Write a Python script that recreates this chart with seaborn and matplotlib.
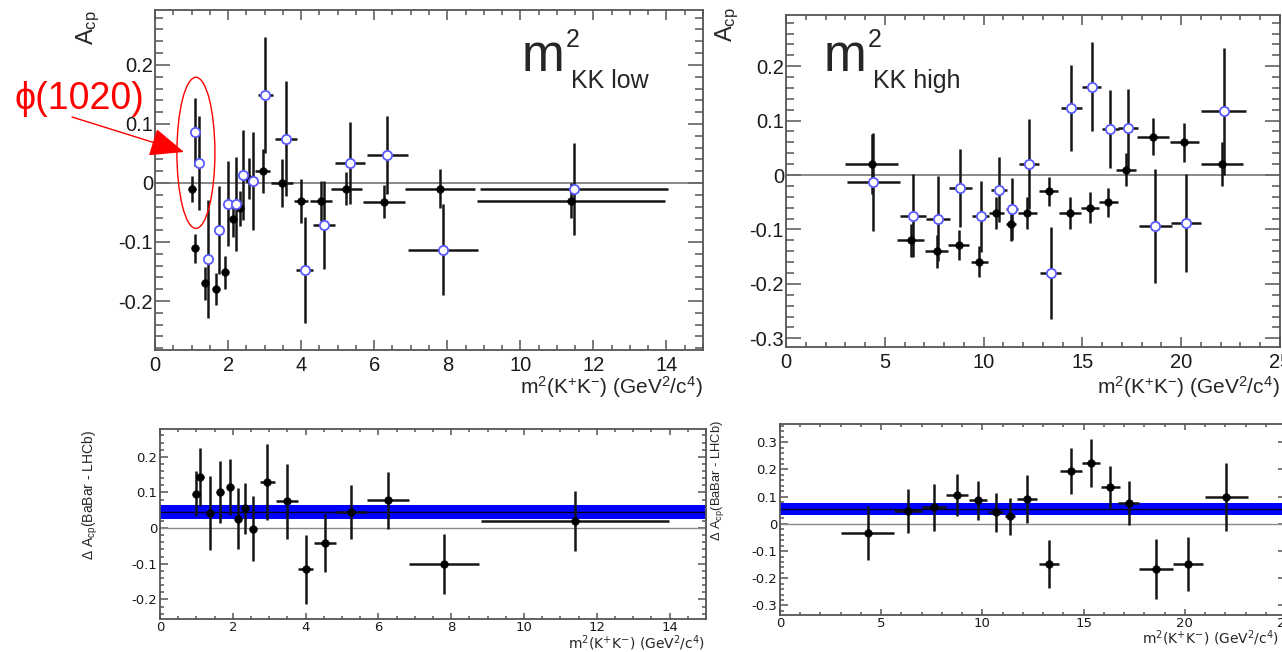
import numpy as np
import pandas as pd
import matplotlib
matplotlib.use("Agg")
import matplotlib.pyplot as plt
import seaborn as sns
from matplotlib.patches import Ellipse, FancyArrowPatch
from matplotlib.ticker import MultipleLocator, FuncFormatter

# ---------------- data ----------------
# low m2KK region : LHCb (filled) and BaBar (open)
lhcb_low_x = [1.00, 1.09, 1.37, 1.66, 1.92, 2.14, 2.34, 2.56, 2.95, 3.48, 4.00, 4.54, 5.24, 6.26, 7.80, 11.39]
lhcb_low_y = [-0.010, -0.111, -0.170, -0.179, -0.151, -0.061, -0.043, 0.007, 0.020, 0.000, -0.030, -0.030, -0.010, -0.032, -0.010, -0.030]
lhcb_low_xerr = [0.03, 0.03, 0.06, 0.06, 0.06, 0.07, 0.07, 0.07, 0.20, 0.30, 0.20, 0.30, 0.42, 0.58, 0.95, 2.58]
lhcb_low_yerr = [0.022, 0.025, 0.028, 0.027, 0.028, 0.030, 0.030, 0.035, 0.037, 0.040, 0.037, 0.034, 0.028, 0.028, 0.033, 0.030]

babar_low_x = [1.09, 1.21, 1.46, 1.76, 2.00, 2.22, 2.42, 2.68, 3.02, 3.58, 4.10, 4.62, 5.34, 6.36, 7.89, 11.46]
babar_low_y = [0.086, 0.034, -0.129, -0.080, -0.035, -0.036, 0.013, 0.004, 0.149, 0.075, -0.147, -0.071, 0.034, 0.047, -0.113, -0.010]
babar_low_xerr = [0.03, 0.03, 0.06, 0.06, 0.06, 0.07, 0.07, 0.07, 0.20, 0.30, 0.23, 0.30, 0.42, 0.57, 0.96, 2.57]
babar_low_yerr = [0.058, 0.080, 0.100, 0.075, 0.072, 0.080, 0.076, 0.083, 0.099, 0.097, 0.090, 0.074, 0.069, 0.066, 0.077, 0.078]

# high m2KK region
lhcb_high_x = [4.33, 6.32, 7.62, 8.74, 9.78, 10.65, 11.37, 12.22, 13.29, 14.39, 15.37, 16.32, 17.22, 18.57, 20.16, 22.06]
lhcb_high_y = [0.020, -0.120, -0.140, -0.129, -0.159, -0.070, -0.090, -0.070, -0.030, -0.070, -0.060, -0.050, 0.010, 0.070, 0.060, 0.020]
lhcb_high_xerr = [1.32, 0.68, 0.60, 0.53, 0.43, 0.38, 0.25, 0.50, 0.50, 0.55, 0.45, 0.46, 0.50, 0.83, 0.75, 1.07]
lhcb_high_yerr = [0.055, 0.030, 0.030, 0.028, 0.028, 0.030, 0.032, 0.030, 0.027, 0.030, 0.028, 0.027, 0.031, 0.034, 0.036, 0.040]

babar_high_x = [4.42, 6.44, 7.71, 8.82, 9.85, 10.76, 11.45, 12.30, 13.39, 14.44, 15.47, 16.41, 17.31, 18.68, 20.25, 22.15]
babar_high_y = [-0.013, -0.075, -0.080, -0.024, -0.076, -0.027, -0.062, 0.020, -0.180, 0.124, 0.162, 0.084, 0.086, -0.094, -0.088, 0.117]
babar_high_xerr = [1.33, 0.66, 0.60, 0.58, 0.42, 0.40, 0.30, 0.50, 0.52, 0.52, 0.48, 0.42, 0.50, 0.83, 0.77, 1.13]
babar_high_yerr = [0.090, 0.076, 0.078, 0.071, 0.065, 0.060, 0.057, 0.083, 0.084, 0.079, 0.082, 0.072, 0.072, 0.105, 0.090, 0.117]

# differences BaBar - LHCb
diff_low_y = [0.097, 0.144, 0.042, 0.101, 0.116, 0.026, 0.055, -0.002, 0.130, 0.075, -0.116, -0.041, 0.045, 0.078, -0.100, 0.021]
diff_low_yerr = [0.064, 0.082, 0.103, 0.086, 0.078, 0.086, 0.071, 0.091, 0.106, 0.106, 0.098, 0.081, 0.076, 0.080, 0.084, 0.084]
diff_high_y = [-0.033, 0.047, 0.061, 0.107, 0.086, 0.042, 0.028, 0.091, -0.149, 0.194, 0.224, 0.136, 0.076, -0.166, -0.148, 0.097]
diff_high_yerr = [0.099, 0.082, 0.086, 0.077, 0.073, 0.072, 0.068, 0.088, 0.088, 0.085, 0.087, 0.078, 0.080, 0.112, 0.098, 0.125]

# fitted average difference (band): mean, error
band_low = (0.045, 0.019)
band_high = (0.054, 0.021)

# ---------------- style ----------------
sns.set_theme(style="ticks")
plt.rcParams['font.family'] = ['Liberation Sans', 'DejaVu Sans']
plt.rcParams['mathtext.fontset'] = 'custom'
plt.rcParams['mathtext.rm'] = 'Liberation Sans'
plt.rcParams['mathtext.it'] = 'Liberation Sans:italic'
plt.rcParams['mathtext.default'] = 'regular'
plt.rcParams['axes.unicode_minus'] = False

W, H = 1282, 652
fig = plt.figure(figsize=(W / 100, H / 100), dpi=100)
fig.patch.set_facecolor('white')


def box(l, t, r, b):
    return [l / W, 1 - b / H, (r - l) / W, (b - t) / H]


ax1 = fig.add_axes(box(155, 10, 703, 350))
ax2 = fig.add_axes(box(786, 15, 1280, 347))
ax3 = fig.add_axes(box(160, 429, 706, 619))
ax4 = fig.add_axes(box(780, 424, 1286, 615))

fmt = FuncFormatter(lambda v, p: f"{round(v, 6):g}")
XLAB = r"m$^{2}$(K$^{+}$K$^{-}$) (GeV$^{2}$/c$^{4}$)"


def style(ax, xlim, ylim, xmaj, xmin, ymaj_len, xmaj_len, lab_font, lab_size, pad_y, pad_x):
    ax.set_facecolor('white')
    ax.set_xlim(*xlim)
    ax.set_ylim(*ylim)
    for s in ax.spines.values():
        s.set_color('#555555')
        s.set_linewidth(1.3)
    ax.xaxis.set_major_locator(MultipleLocator(xmaj))
    ax.xaxis.set_minor_locator(MultipleLocator(xmin))
    ax.yaxis.set_major_locator(MultipleLocator(0.1))
    ax.yaxis.set_minor_locator(MultipleLocator(0.02))
    ax.xaxis.set_major_formatter(fmt)
    ax.yaxis.set_major_formatter(fmt)
    ax.tick_params(which='both', direction='in', top=True, right=True,
                   color='#555555', width=1.1)
    ax.tick_params(axis='y', which='major', length=ymaj_len, pad=pad_y)
    ax.tick_params(axis='y', which='minor', length=ymaj_len / 2)
    ax.tick_params(axis='x', which='major', length=xmaj_len, pad=pad_x)
    ax.tick_params(axis='x', which='minor', length=xmaj_len / 2)
    for lab in ax.get_xticklabels() + ax.get_yticklabels():
        lab.set_fontfamily(lab_font)
        lab.set_fontsize(lab_size)
        lab.set_color('#1a1a1a')
    ax.grid(False)


def points(ax, x, y, xe, ye, open_marker):
    ax.errorbar(x, y, xerr=xe, yerr=ye, fmt='none', ecolor='#151515',
                elinewidth=1.8, capsize=0, zorder=3)
    df = pd.DataFrame({'x': x, 'y': y})
    if open_marker:
        sns.scatterplot(data=df, x='x', y='y', ax=ax, s=44, color='white',
                        edgecolor='#5a5aff', linewidth=1.3, zorder=5, legend=False)
    else:
        sns.scatterplot(data=df, x='x', y='y', ax=ax, s=30, color='black',
                        edgecolor='black', linewidth=0.5, zorder=4, legend=False)
    ax.set_xlabel('')
    ax.set_ylabel('')


# ---- top left ----
ax1.axhline(0, color='#6a6a6a', lw=1.1, zorder=1)
points(ax1, lhcb_low_x, lhcb_low_y, lhcb_low_xerr, lhcb_low_yerr, False)
points(ax1, babar_low_x, babar_low_y, babar_low_xerr, babar_low_yerr, True)
style(ax1, (0, 15), (-0.283, 0.293), 2, 0.5, 11, 7, ['Liberation Sans'], 14.5, 1.5, 4)

# ---- top right ----
ax2.axhline(0, color='#6a6a6a', lw=1.1, zorder=1)
points(ax2, lhcb_high_x, lhcb_high_y, lhcb_high_xerr, lhcb_high_yerr, False)
points(ax2, babar_high_x, babar_high_y, babar_high_xerr, babar_high_yerr, True)
style(ax2, (0, 25), (-0.316, 0.294), 5, 1, 11, 7, ['Liberation Sans'], 14.5, 1.5, 4)

# ---- bottom left ----
ax3.axhline(0, color='#8a8a8a', lw=1.0, zorder=1)
ax3.axhspan(band_low[0] - band_low[1], band_low[0] + band_low[1], color='#0000ff', lw=0, zorder=1.5)
ax3.axhline(band_low[0], color='#000022', lw=1.0, zorder=2)
points(ax3, lhcb_low_x, diff_low_y, lhcb_low_xerr, diff_low_yerr, False)
style(ax3, (0, 15), (-0.255, 0.278), 2, 0.5, 6, 4.5, ['DejaVu Sans'], 9.5, 2, 1.5)

# ---- bottom right ----
ax4.axhline(0, color='#8a8a8a', lw=1.0, zorder=1)
ax4.axhspan(band_high[0] - band_high[1], band_high[0] + band_high[1], color='#0000ff', lw=0, zorder=1.5)
ax4.axhline(band_high[0], color='#000022', lw=1.0, zorder=2)
points(ax4, lhcb_high_x, diff_high_y, lhcb_high_xerr, diff_high_yerr, False)
style(ax4, (0, 25), (-0.335, 0.367), 5, 1, 6, 4.5, ['DejaVu Sans'], 9.5, 2, 1.5)

# ---- axis titles ----
fig.text(703 / W, 1 - 387 / H, XLAB, ha='right', va='center', fontsize=15)
fig.text(1280 / W, 1 - 387 / H, XLAB, ha='right', va='center', fontsize=15)
fig.text(705 / W, 1 - 643 / H, XLAB, ha='right', va='center', fontsize=10, family=['DejaVu Sans'])
fig.text(1279 / W, 1 - 638 / H, XLAB, ha='right', va='center', fontsize=10, family=['DejaVu Sans'])

ax1.text((88 - 155) / 548, 1.0, r"A$_{cp}$", transform=ax1.transAxes, rotation=90,
         ha='center', va='top', fontsize=17)
ax2.text((727 - 786) / 494, 1 + (15 - 7) / 332, r"A$_{cp}$", transform=ax2.transAxes, rotation=90,
         ha='center', va='top', fontsize=17)
fig.text(90 / W, 1 - 430 / H, r"$\Delta$ A$_{cp}$(BaBar - LHCb)", rotation=90,
         ha='center', va='top', fontsize=10)
fig.text(717 / W, 1 - 420 / H, r"$\Delta$ A$_{cp}$(BaBar - LHCb)", rotation=90,
         ha='center', va='top', fontsize=9.3)


# ---- region labels ----
def region_label(l_px, base_px, sub):
    t = fig.text(l_px / W, 1 - base_px / H, "m", ha='left', va='baseline', fontsize=37)
    fig.canvas.draw()
    x_end = t.get_window_extent().x1
    fig.text((x_end + 1) / W, 1 - (base_px - 24) / H, "2", ha='left', va='baseline', fontsize=18)
    fig.text((x_end + 6) / W, 1 - (base_px + 17) / H, sub, ha='left', va='baseline', fontsize=18)


region_label(522, 71, "KK low")
region_label(824, 71, "KK high")

# ---- phi(1020) annotation ----
ell = Ellipse((1.12, 0.051), 1.04, 0.256, fill=False, edgecolor='red', lw=1.0, zorder=6)
ax1.add_patch(ell)
fig.text(15 / W, 1 - 109 / H, "ϕ(1020)", color='red', fontsize=27, ha='left', va='baseline',
         family=['Liberation Sans', 'DejaVu Sans'])
fig.add_artist(FancyArrowPatch(
    (72 / W, 1 - 117 / H), (184 / W, 1 - 152 / H), transform=fig.transFigure,
    arrowstyle='-|>,head_length=0.6,head_width=0.25', mutation_scale=36,
    color='red', lw=1.0, shrinkA=0, shrinkB=0))

fig.savefig("out.png", dpi=100, facecolor='white')
